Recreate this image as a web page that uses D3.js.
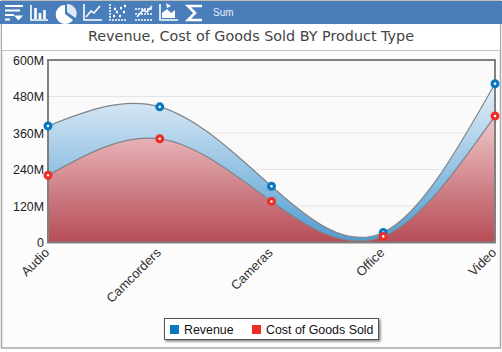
<!DOCTYPE html>
<html><head><meta charset="utf-8">
<script src="https://cdn.jsdelivr.net/npm/d3@7"></script>
<style>html,body{margin:0;padding:0;background:#fff;overflow:hidden}svg{display:block}</style></head>
<body><svg id="c" width="502" height="352"></svg>
<script>
const categories = ["Audio","Camcorders","Cameras","Office","Video"];
const revenue = [383,446,185,33,522];
const cost = [221,341,135,20,416];
const yTicks = [0,120,240,360,480,600];
const yTickLabels = ["0","120M","240M","360M","480M","600M"];
const seriesNames = ["Revenue","Cost of Goods Sold"];
const seriesColors = ["#0a78bf","#ee2d27"];
const title = "Revenue, Cost of Goods Sold BY Product Type";
const toolbarLabel = "Sum";

const svg = d3.select("#c");
const W=502,H=352,L=48,R=495,T=60,B=242.5;
const x=d3.scalePoint().domain(categories).range([L,R]);
const y=d3.scaleLinear().domain([0,600]).range([B,T]);
const defs=svg.append("defs");
function grad(id,stops){const g=defs.append("linearGradient").attr("id",id).attr("x1",0).attr("y1",0).attr("x2",0).attr("y2",1);
 stops.forEach(s=>g.append("stop").attr("offset",s[0]).attr("stop-color",s[1]));}
grad("gb",[[0,"#e6f0f8"],[1,"#4f9cd2"]]);
grad("gr",[[0,"#f0c8ca"],[1,"#b64c56"]]);
const sh=defs.append("filter").attr("id","sh").attr("x","-5%").attr("y","-20%").attr("width","112%").attr("height","150%");
sh.append("feDropShadow").attr("dx",1.5).attr("dy",1.5).attr("stdDeviation",1).attr("flood-color","#000").attr("flood-opacity",.5);

// frame
svg.append("rect").attr("x",1.5).attr("y",1).attr("width",499).attr("height",347).attr("fill","#fcfcfc").attr("stroke","#a8a8a8").attr("stroke-width",1.5);
svg.append("rect").attr("x",2).attr("y",25).attr("width",498).attr("height",25).attr("fill","#fff");
svg.append("line").attr("x1",2).attr("x2",500).attr("y1",50.5).attr("y2",50.5).attr("stroke","#c4c4c4");
svg.append("rect").attr("x",0).attr("y",1).attr("width",502).attr("height",23).attr("fill","#4a7ebb");
svg.append("text").attr("x",251).attr("y",40.5).attr("text-anchor","middle").attr("font-family","DejaVu Sans").attr("font-size",14.35).attr("fill","#444").text(title);

// plot
svg.append("rect").attr("x",L).attr("y",T).attr("width",R-L).attr("height",B-T).attr("fill","#fafafa");
const gridG=svg.append("g");
yTicks.slice(1,-1).forEach(t=>gridG.append("line").attr("x1",L).attr("x2",R).attr("y1",y(t)).attr("y2",y(t)).attr("stroke","#e4e4e4"));

const curve=d3.curveNatural;
const idx=d3.range(categories.length);
const area=v=>d3.area().x(i=>x(categories[i])).y0(B).y1(i=>y(v[i])).curve(curve)(idx);
const line=v=>d3.line().x(i=>x(categories[i])).y(i=>y(v[i])).curve(curve)(idx);
svg.append("path").attr("d",area(revenue)).attr("fill","url(#gb)");
svg.append("path").attr("d",area(cost)).attr("fill","url(#gr)");
svg.append("path").attr("d",line(revenue)).attr("fill","none").attr("stroke","#808488").attr("stroke-width",1.2);
svg.append("path").attr("d",line(cost)).attr("fill","none").attr("stroke","#808488").attr("stroke-width",1.2);

// plot border
svg.append("path").attr("d",`M${L},${B}V${T}H${R}V${B}Z`).attr("fill","none").attr("stroke","#808080").attr("stroke-width",2);

// markers
[[revenue,0],[cost,1]].forEach(([v,k])=>{
 svg.append("g").selectAll("circle").data(v).join("circle")
  .attr("cx",(d,i)=>x(categories[i])).attr("cy",d=>y(d)).attr("r",2.9)
  .attr("fill","#fff").attr("stroke",seriesColors[k]).attr("stroke-width",3.2);
});

// axes labels
const ya=svg.append("g").attr("font-family","Liberation Sans").attr("font-size",12.4).attr("fill","#222");
yTicks.forEach((t,i)=>ya.append("text").attr("x",44).attr("y",y(t)+4.5).attr("text-anchor","end").text(yTickLabels[i]));
const xa=svg.append("g").attr("font-family","Liberation Sans").attr("font-size",13).attr("fill","#333");
categories.forEach(c=>xa.append("text").attr("text-anchor","end")
 .attr("transform",`translate(${x(c)+2},${B+11}) rotate(-45)`).text(c));

// legend
const lg=svg.append("g");
lg.append("rect").attr("x",164.5).attr("y",318.5).attr("width",214).attr("height",21).attr("fill","#fff").attr("stroke","#555").attr("filter","url(#sh)");
lg.append("rect").attr("x",170).attr("y",325).attr("width",9).attr("height",9).attr("fill",seriesColors[0]);
lg.append("rect").attr("x",252).attr("y",325).attr("width",9).attr("height",9).attr("fill",seriesColors[1]);
const lt=lg.append("g").attr("font-family","Liberation Sans").attr("font-size",12.4).attr("fill","#111");
lt.append("text").attr("x",184).attr("y",334).text(seriesNames[0]);
lt.append("text").attr("x",266).attr("y",334).text(seriesNames[1]);

// toolbar
const ic=svg.append("g").attr("fill","none").attr("stroke","#fff").attr("stroke-width",1.6);
// sort
ic.append("path").attr("d","M5,6H23M5,10.5H20M5,15H14M5,19.5H10").attr("stroke-width",2.2);
ic.append("path").attr("d","M14,15.5H23L18.5,20.5Z").attr("fill","#fff").attr("stroke","none");
// bars
ic.append("path").attr("d","M31,5V20H48");
ic.append("path").attr("d","M35.5,8V19M40,13V19M44.5,10V19").attr("stroke-width",2.6);
// pie
ic.append("path").attr("d","M65,5A9.5,9.5 0 1,0 73,20L65,14Z").attr("fill","#fff").attr("stroke","none");
ic.append("path").attr("d","M67,4A9.5,9.5 0 0,1 75.5,18L67,12Z").attr("fill","#dfe9f4").attr("stroke","none");
// line
ic.append("path").attr("d","M84,4V20H102");
ic.append("path").attr("d","M86,17L91,11L94,13L100,6");
// scatter
ic.append("path").attr("d","M110,4V20H127").attr("stroke-dasharray","2 1");
ic.append("path").attr("d","M113,16h2M116,12h2M119,16h2M120,8h2M123,12h2M124,6h2M114,9h2").attr("stroke-width",2.4);
// combo
ic.append("path").attr("d","M135,9H152M135,14H152M135,20H152").attr("stroke-dasharray","2 1");
ic.append("path").attr("d","M137,17L143,10L147,12L152,6");
// area
ic.append("path").attr("d","M160,4V20H178");
ic.append("path").attr("d","M162,18V13L167,9L171,13L175,10V18Z").attr("fill","#fff").attr("stroke","none");
ic.append("path").attr("d","M166,3L171,6L167,8Z").attr("fill","#fff").attr("stroke","none");
// sigma
ic.append("path").attr("d","M202,6H188L195,13L188,20H202").attr("stroke-width",2.6);
svg.append("text").attr("x",213).attr("y",16).attr("font-family","Liberation Sans").attr("font-size",10).attr("fill","#e6eef7").text(toolbarLabel);
</script></body></html>
